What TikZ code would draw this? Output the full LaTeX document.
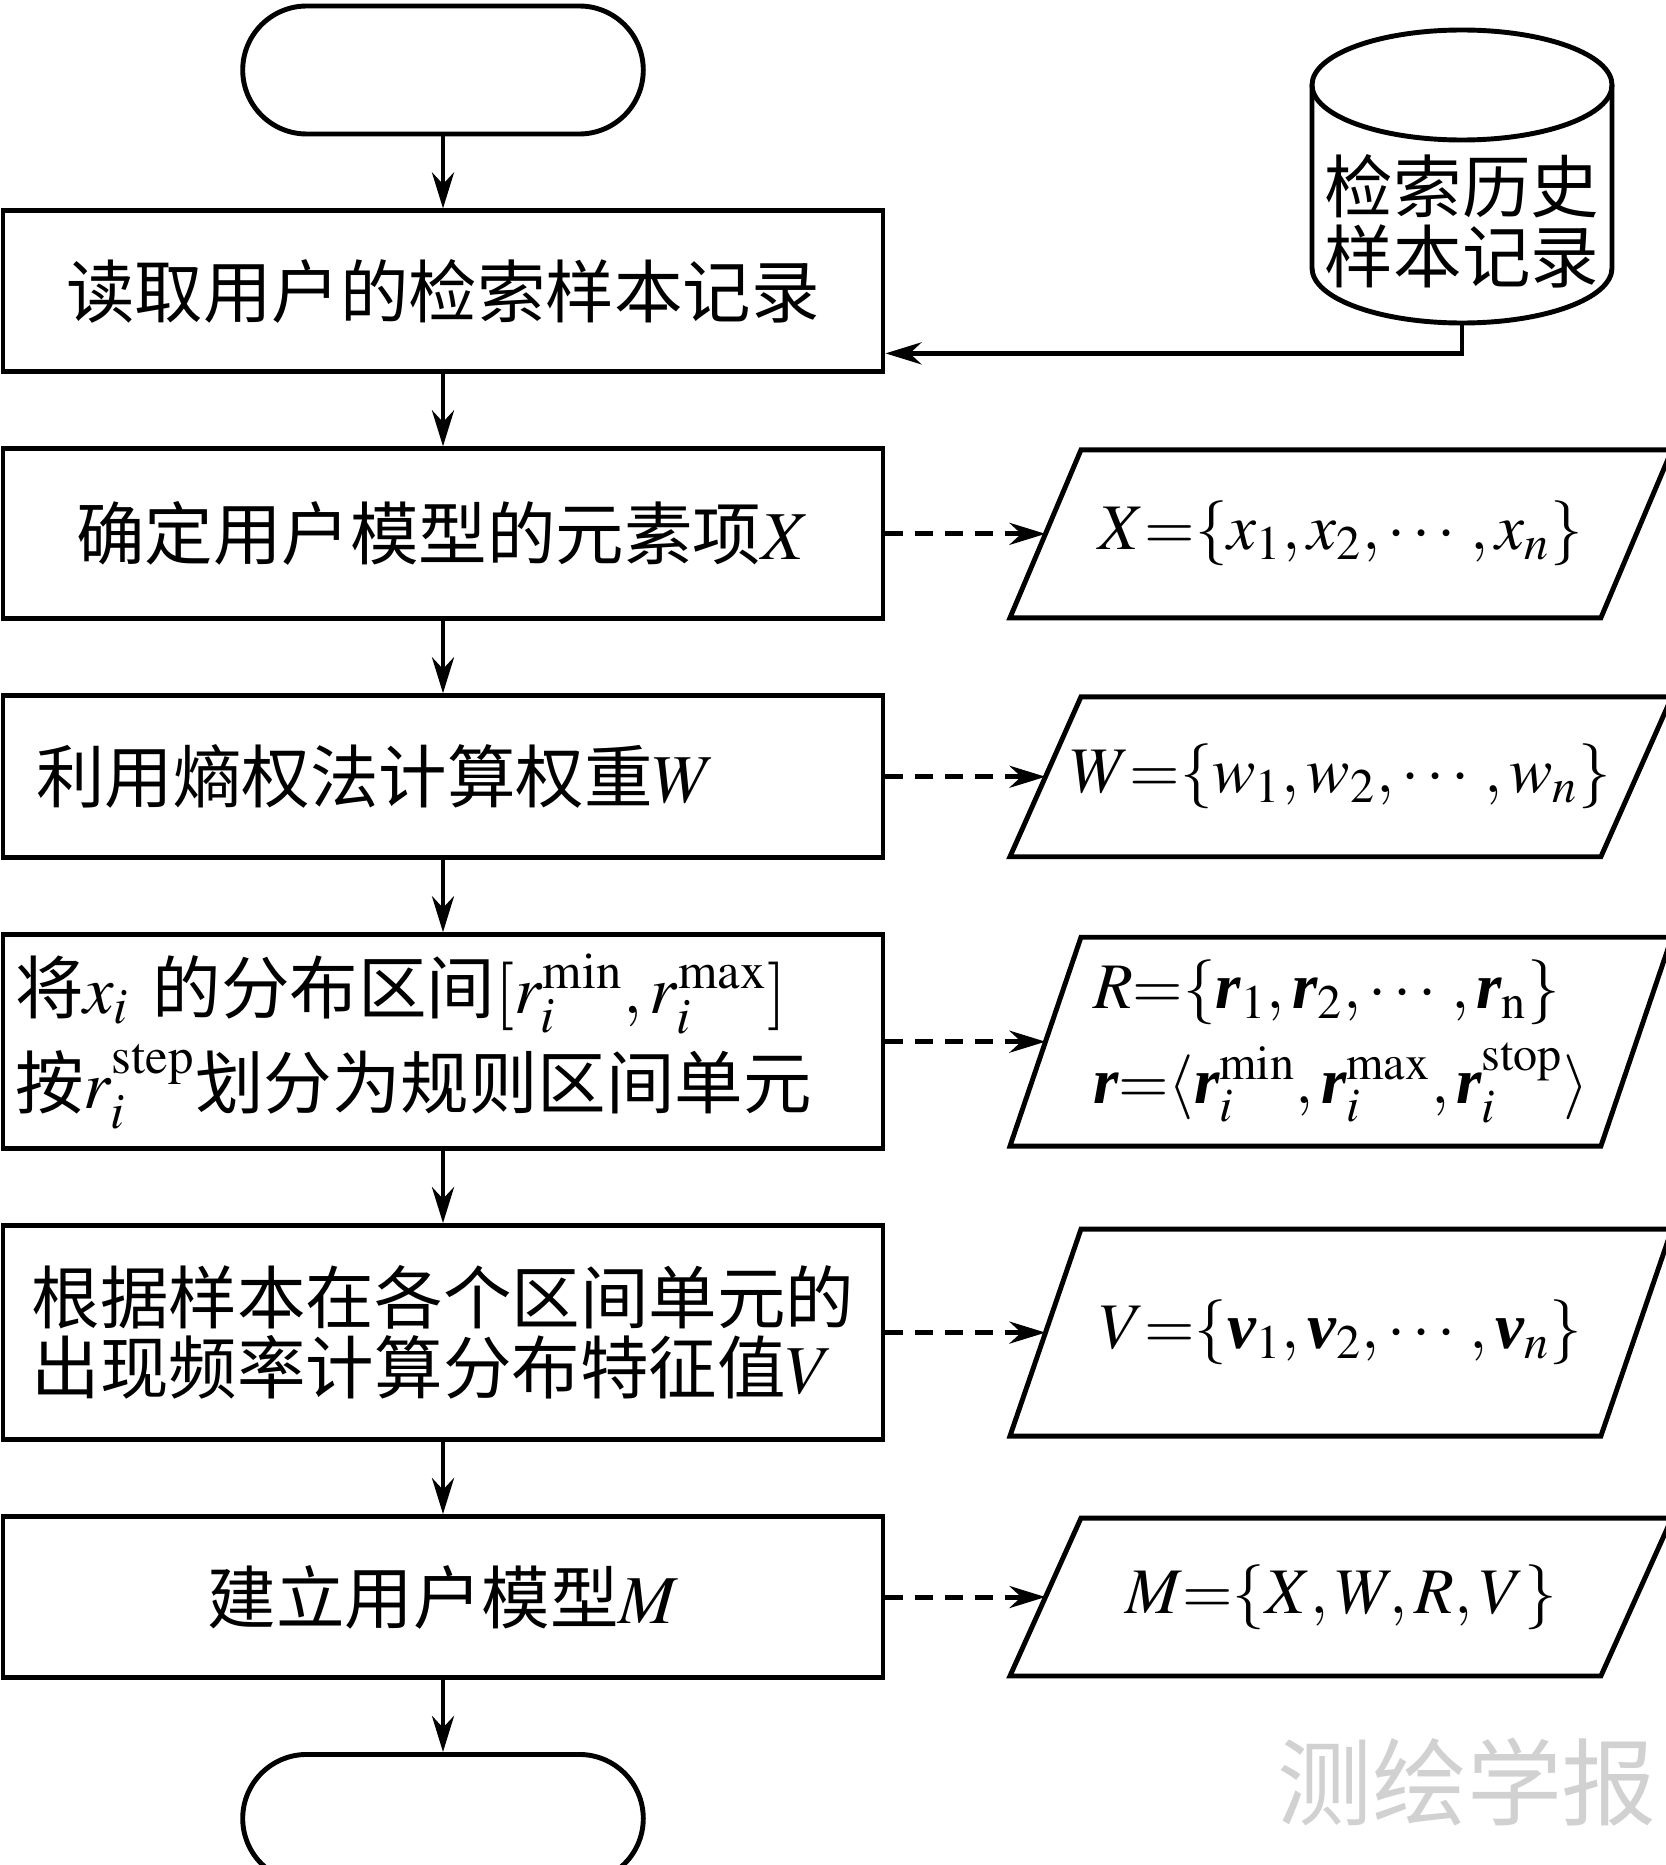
\documentclass[tikz,border=0pt]{standalone}
\usepackage{amsmath}
\usepackage{mathptmx}
\usepackage[no-math]{fontspec}
\setmainfont{Liberation Serif}
\newfontfamily\cjk{Noto Sans CJK SC}
\usepackage{tikz}
\usetikzlibrary{arrows.meta}
\usetikzlibrary{positioning}
\usetikzlibrary{shapes.misc}

\newcommand{\rvec}{\text{\rmfamily\bfseries\itshape r}}
\newcommand{\vvec}{\text{\rmfamily\bfseries\itshape v}}

\begin{document}
\begin{tikzpicture}[
	line width=1.4pt,
	every node/.style={font=\cjk\fontsize{19.5}{20}\selectfont},
	proc/.style={draw,rectangle,minimum width=8.8cm,inner sep=0pt},
	term/.style={draw,rounded rectangle,minimum width=4.24cm,minimum height=1.28cm},
	data/.style={rectangle,minimum width=5.86cm,inner sep=0pt,font=\rmfamily\fontsize{18.5}{20}\selectfont},
	flow/.style={-{Stealth[length=3.6mm,width=2.2mm]}},
	link/.style={flow,dash pattern=on 5pt off 3.5pt}
]
	\useasboundingbox (0,0) rectangle (16.66,-18.65);

	% main column
	\node[term] (start) at (4.43,-0.70) {};
	\node[proc,minimum height=1.61cm,below=0.72cm of start] (b1) {读取用户的检索样本记录};
	\node[proc,minimum height=1.70cm,below=0.72cm of b1] (b2) {确定用户模型的元素项$X$};
	\node[proc,minimum height=1.62cm,below=0.72cm of b2,align=left,inner xsep=0.33cm,text width=8.14cm] (b3) {利用熵权法计算权重$W$};
	\node[proc,minimum height=2.14cm,below=0.72cm of b3,align=left,inner xsep=0.12cm,text width=8.56cm] (b4)
		{将$x_i$ 的分布区间$[r_i^{\mathrm{min}},r_i^{\mathrm{max}}]$\\[2pt]按$r_i^{\mathrm{step}}$划分为规则区间单元};
	\node[proc,minimum height=2.14cm,below=0.72cm of b4,align=left] (b5) {根据样本在各个区间单元的\\出现频率计算分布特征值$V$};
	\node[proc,minimum height=1.61cm,below=0.72cm of b5] (b6) {建立用户模型$M$};
	\node[term,below=0.72cm of b6] (stop) {};

	% data column
	\node[data,minimum height=1.63cm,right=1.6cm of b2] (px) {$X{=}\{x_1,x_2,\cdots,x_n\}$};
	\node[data,minimum height=1.55cm,right=1.6cm of b3] (pw) {$W{=}\{w_1,w_2,\cdots,w_n\}$};
	\node[data,minimum height=2.04cm,right=1.6cm of b4,align=left] (pr)
		{$R{=}\{\rvec_1,\rvec_2,\cdots,\rvec_{\mathrm{n}}\}$\\[4pt]$\rvec{=}\langle \rvec_i^{\mathrm{min}},\rvec_i^{\mathrm{max}},\rvec_i^{\mathrm{stop}}\rangle$};
	\node[data,minimum height=2.02cm,right=1.6cm of b5] (pv) {$V{=}\{\vvec_1,\vvec_2,\cdots,\vvec_n\}$};
	\node[data,minimum height=1.53cm,right=1.6cm of b6] (pm) {$M{=}\{X,W,R,V\}$};
	\foreach \p in {px,pw,pr,pv,pm}
		\draw ([xshift=-3.55mm]\p.south west) -- ([xshift=3.55mm]\p.north west)
			-- ([xshift=3.55mm]\p.north east) -- ([xshift=-3.55mm]\p.south east) -- cycle;

	% history database
	\draw (13.12,-0.85) -- (13.12,-2.68) arc[start angle=180,end angle=360,x radius=1.5,y radius=0.55] -- (16.12,-0.85);
	\draw (14.62,-0.85) ellipse [x radius=1.5,y radius=0.55];
	\node[align=center] (db) at (14.62,-2.21) {检索历史\\样本记录};
	\coordinate (dbout) at (14.62,-3.23);
	\coordinate (b1in) at ([yshift=2.1mm]b1.south east);

	% connectors
	\foreach \a/\b in {start/b1,b1/b2,b2/b3,b3/b4,b4/b5,b5/b6,b6/stop}
		\draw[flow] (\a) -- (\b);
	\foreach \a/\b in {b2/px,b3/pw,b4/pr,b5/pv,b6/pm}
		\draw[link] (\a) -- (\b);
	\draw[flow] (dbout) |- (b1in);

	\node[text=black!18,font=\cjk\fontsize{27}{27}\selectfont] (wm) at (14.67,-17.82) {测绘学报};
\end{tikzpicture}
\end{document}
